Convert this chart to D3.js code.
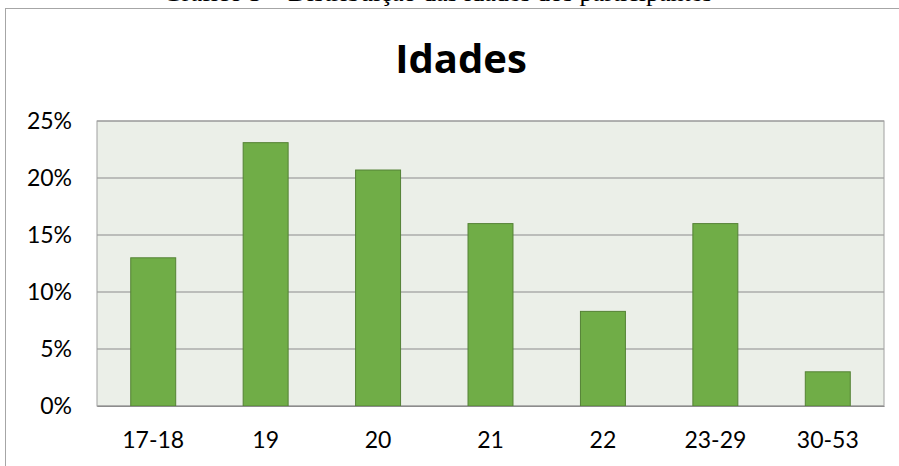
<!DOCTYPE html>
<html>
<head>
<meta charset="utf-8">
<script src="https://cdn.jsdelivr.net/npm/d3@7"></script>
<style>
  body { margin: 0; background: #fff; }
  svg { display: block; }
</style>
</head>
<body>
<div id="chart"></div>
<script>
// dados do gráfico
const categories = ["17-18", "19", "20", "21", "22", "23-29", "30-53"];
const values = [0.130, 0.231, 0.207, 0.160, 0.083, 0.160, 0.030];
const yTicks = [0, 0.05, 0.10, 0.15, 0.20, 0.25];
const chartTitle = "Idades";
const caption = "Gráfico 3 – Distribuição das idades dos participantes";

const width = 899;
const height = 466;
const plot = { left: 97, right: 884, top: 121, bottom: 406 };

const svg = d3.select("#chart").append("svg")
    .attr("width", width)
    .attr("height", height);

// legenda cortada no topo (só a parte de baixo aparece)
svg.append("text")
    .attr("x", 163)
    .attr("y", 0.5)
    .attr("font-family", "Liberation Serif")
    .attr("font-size", 26)
    .attr("fill", "#000")
    .text(caption);

// moldura do gráfico
svg.append("rect")
    .attr("x", 5.5)
    .attr("y", 8.5)
    .attr("width", width)
    .attr("height", height)
    .attr("fill", "#fff")
    .attr("stroke", "#a6a6a6")
    .attr("stroke-width", 1);

// título
svg.append("text")
    .attr("x", 461)
    .attr("y", 73)
    .attr("text-anchor", "middle")
    .attr("font-family", "Open Sans")
    .attr("font-weight", "bold")
    .attr("font-size", 40)
    .attr("fill", "#000")
    .text(chartTitle);

// escalas
const xScale = d3.scaleBand()
    .domain(categories)
    .range([plot.left, plot.right])
    .paddingInner(0.6)
    .paddingOuter(0.3);

const yScale = d3.scaleLinear()
    .domain([0, 0.25])
    .range([plot.bottom, plot.top]);

// fundo da área de plotagem
svg.append("rect")
    .attr("x", plot.left)
    .attr("y", plot.top)
    .attr("width", plot.right - plot.left)
    .attr("height", plot.bottom - plot.top)
    .attr("fill", "#ebefe8");

// linhas de grade
svg.append("g")
    .selectAll("line")
    .data(yTicks)
    .enter()
    .append("line")
    .attr("x1", plot.left)
    .attr("x2", plot.right)
    .attr("y1", d => yScale(d))
    .attr("y2", d => yScale(d))
    .attr("stroke", "#8c8c8c")
    .attr("stroke-width", 1.2);

// borda da área de plotagem
svg.append("rect")
    .attr("x", plot.left)
    .attr("y", plot.top)
    .attr("width", plot.right - plot.left)
    .attr("height", plot.bottom - plot.top)
    .attr("fill", "none")
    .attr("stroke", "#a0a0a0")
    .attr("stroke-width", 1);

// barras
svg.selectAll(".bar")
    .data(values)
    .enter()
    .append("rect")
    .attr("class", "bar")
    .attr("x", (d, i) => xScale(categories[i]))
    .attr("y", d => yScale(d))
    .attr("width", xScale.bandwidth())
    .attr("height", d => plot.bottom - yScale(d))
    .attr("fill", "#70ad47")
    .attr("stroke", "#548235")
    .attr("stroke-width", 1);

// eixo y
const yAxis = svg.append("g")
    .attr("transform", `translate(${plot.left},0)`)
    .call(d3.axisLeft(yScale)
        .tickValues(yTicks)
        .tickFormat(d3.format(".0%"))
        .tickSize(0)
        .tickPadding(25));
yAxis.select(".domain").remove();
yAxis.selectAll("text")
    .attr("font-family", "Lato")
    .attr("font-size", 23)
    .attr("fill", "#000");

// eixo x
const xAxis = svg.append("g")
    .attr("transform", `translate(0,${plot.bottom})`)
    .call(d3.axisBottom(xScale).tickSize(0).tickPadding(26));
xAxis.select(".domain")
    .attr("stroke", "#8c8c8c")
    .attr("stroke-width", 1.2);
xAxis.selectAll("text")
    .attr("font-family", "Lato")
    .attr("font-size", 23)
    .attr("fill", "#000");
</script>
</body>
</html>
